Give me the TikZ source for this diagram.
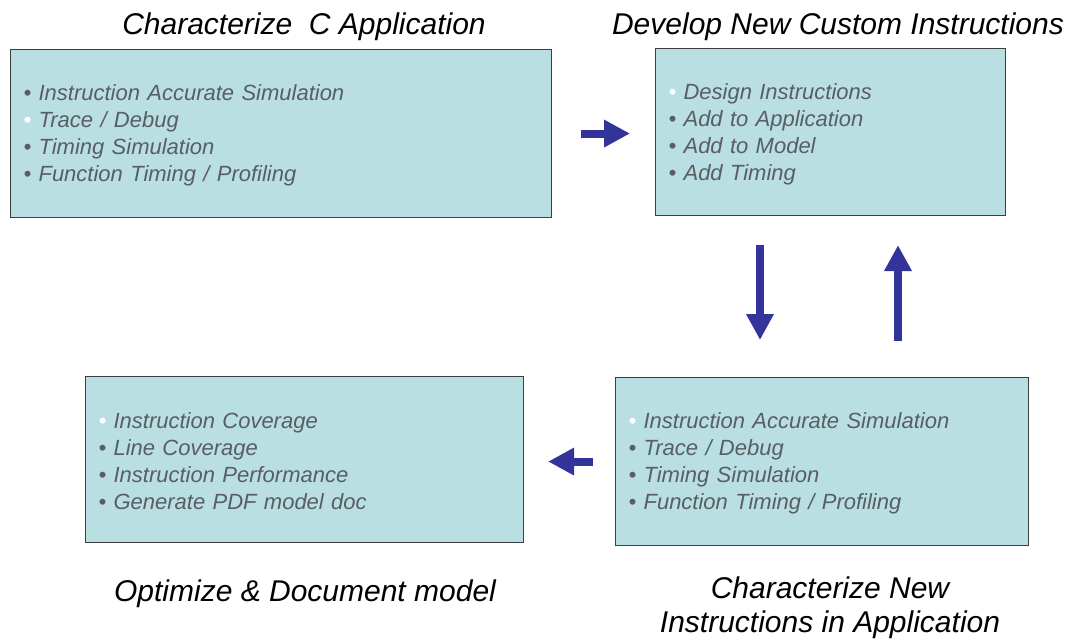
\documentclass[tikz,border=0pt]{standalone}
\usepackage{fontspec}
\setmainfont{Liberation Sans}
\usetikzlibrary{arrows.meta, positioning}

\definecolor{boxfill}{RGB}{185,223,227}
\definecolor{boxline}{RGB}{60,62,64}
\definecolor{itemgray}{RGB}{88,94,98}
\definecolor{flowblue}{RGB}{51,51,153}

\newcommand{\blt}{\textbullet\ }
\newcommand{\wblt}{{\color{white}\textbullet}\ }

\begin{document}
\begin{tikzpicture}[
  x=1pt, y=-1pt,
  stage/.style={rectangle, draw=boxline, line width=1.1pt, fill=boxfill,
    anchor=north west, align=left, inner xsep=13pt,
    text=itemgray, font=\itshape\fontsize{22}{27}\selectfont,
    execute at begin node={\rule{0pt}{20pt}}},
  heading/.style={align=center, font=\itshape\fontsize{30}{34}\selectfont},
  flow/.style={draw=flowblue, line width=8pt, -{Triangle[length=26pt, width=26pt]}}
]
\useasboundingbox (0,0) rectangle (1068,640);

\node[stage, text width=515pt, minimum height=168pt] (charC) at (10,49)
  {\blt Instruction Accurate Simulation\\ \wblt Trace / Debug\\
   \blt Timing Simulation\\ \blt Function Timing / Profiling};
\node[stage, text width=324pt, minimum height=167pt] (develop) at (655,48)
  {\wblt Design Instructions\\ \blt Add to Application\\
   \blt Add to Model\\ \blt Add Timing};
\node[stage, text width=387pt, minimum height=168pt] (charNew) at (615,377)
  {\wblt Instruction Accurate Simulation\\ \blt Trace / Debug\\
   \blt Timing Simulation\\ \blt Function Timing / Profiling};
\node[stage, text width=412pt, minimum height=166pt] (optimize) at (85,376)
  {\wblt Instruction Coverage\\ \blt Line Coverage\\
   \blt Instruction Performance\\ \blt Generate PDF model doc};

\node[heading] (charC-t) at (304,27) {Characterize\ \ C Application};
\node[heading] (develop-t) at (838,27) {Develop New Custom Instructions};
\node[heading] (optimize-t) at (305,594) {Optimize \& Document model};
\node[heading] (charNew-t) at (830,608) {Characterize New\\ Instructions in Application};

\draw[flow, shorten <=29pt, shorten >=25pt] (charC.east) -- (charC.east -| develop.west);
\draw[flow, shorten <=29pt, shorten >=37pt]
  ([xshift=105pt]develop.south west) -- ([xshift=105pt]develop.south west |- charNew.north);
\draw[flow, shorten <=36pt, shorten >=29pt]
  ([xshift=243pt]develop.south west |- charNew.north) -- ([xshift=243pt]develop.south west);
\draw[flow, shorten <=22pt, shorten >=24pt] (charNew.west) -- (charNew.west -| optimize.east);
\end{tikzpicture}
\end{document}
